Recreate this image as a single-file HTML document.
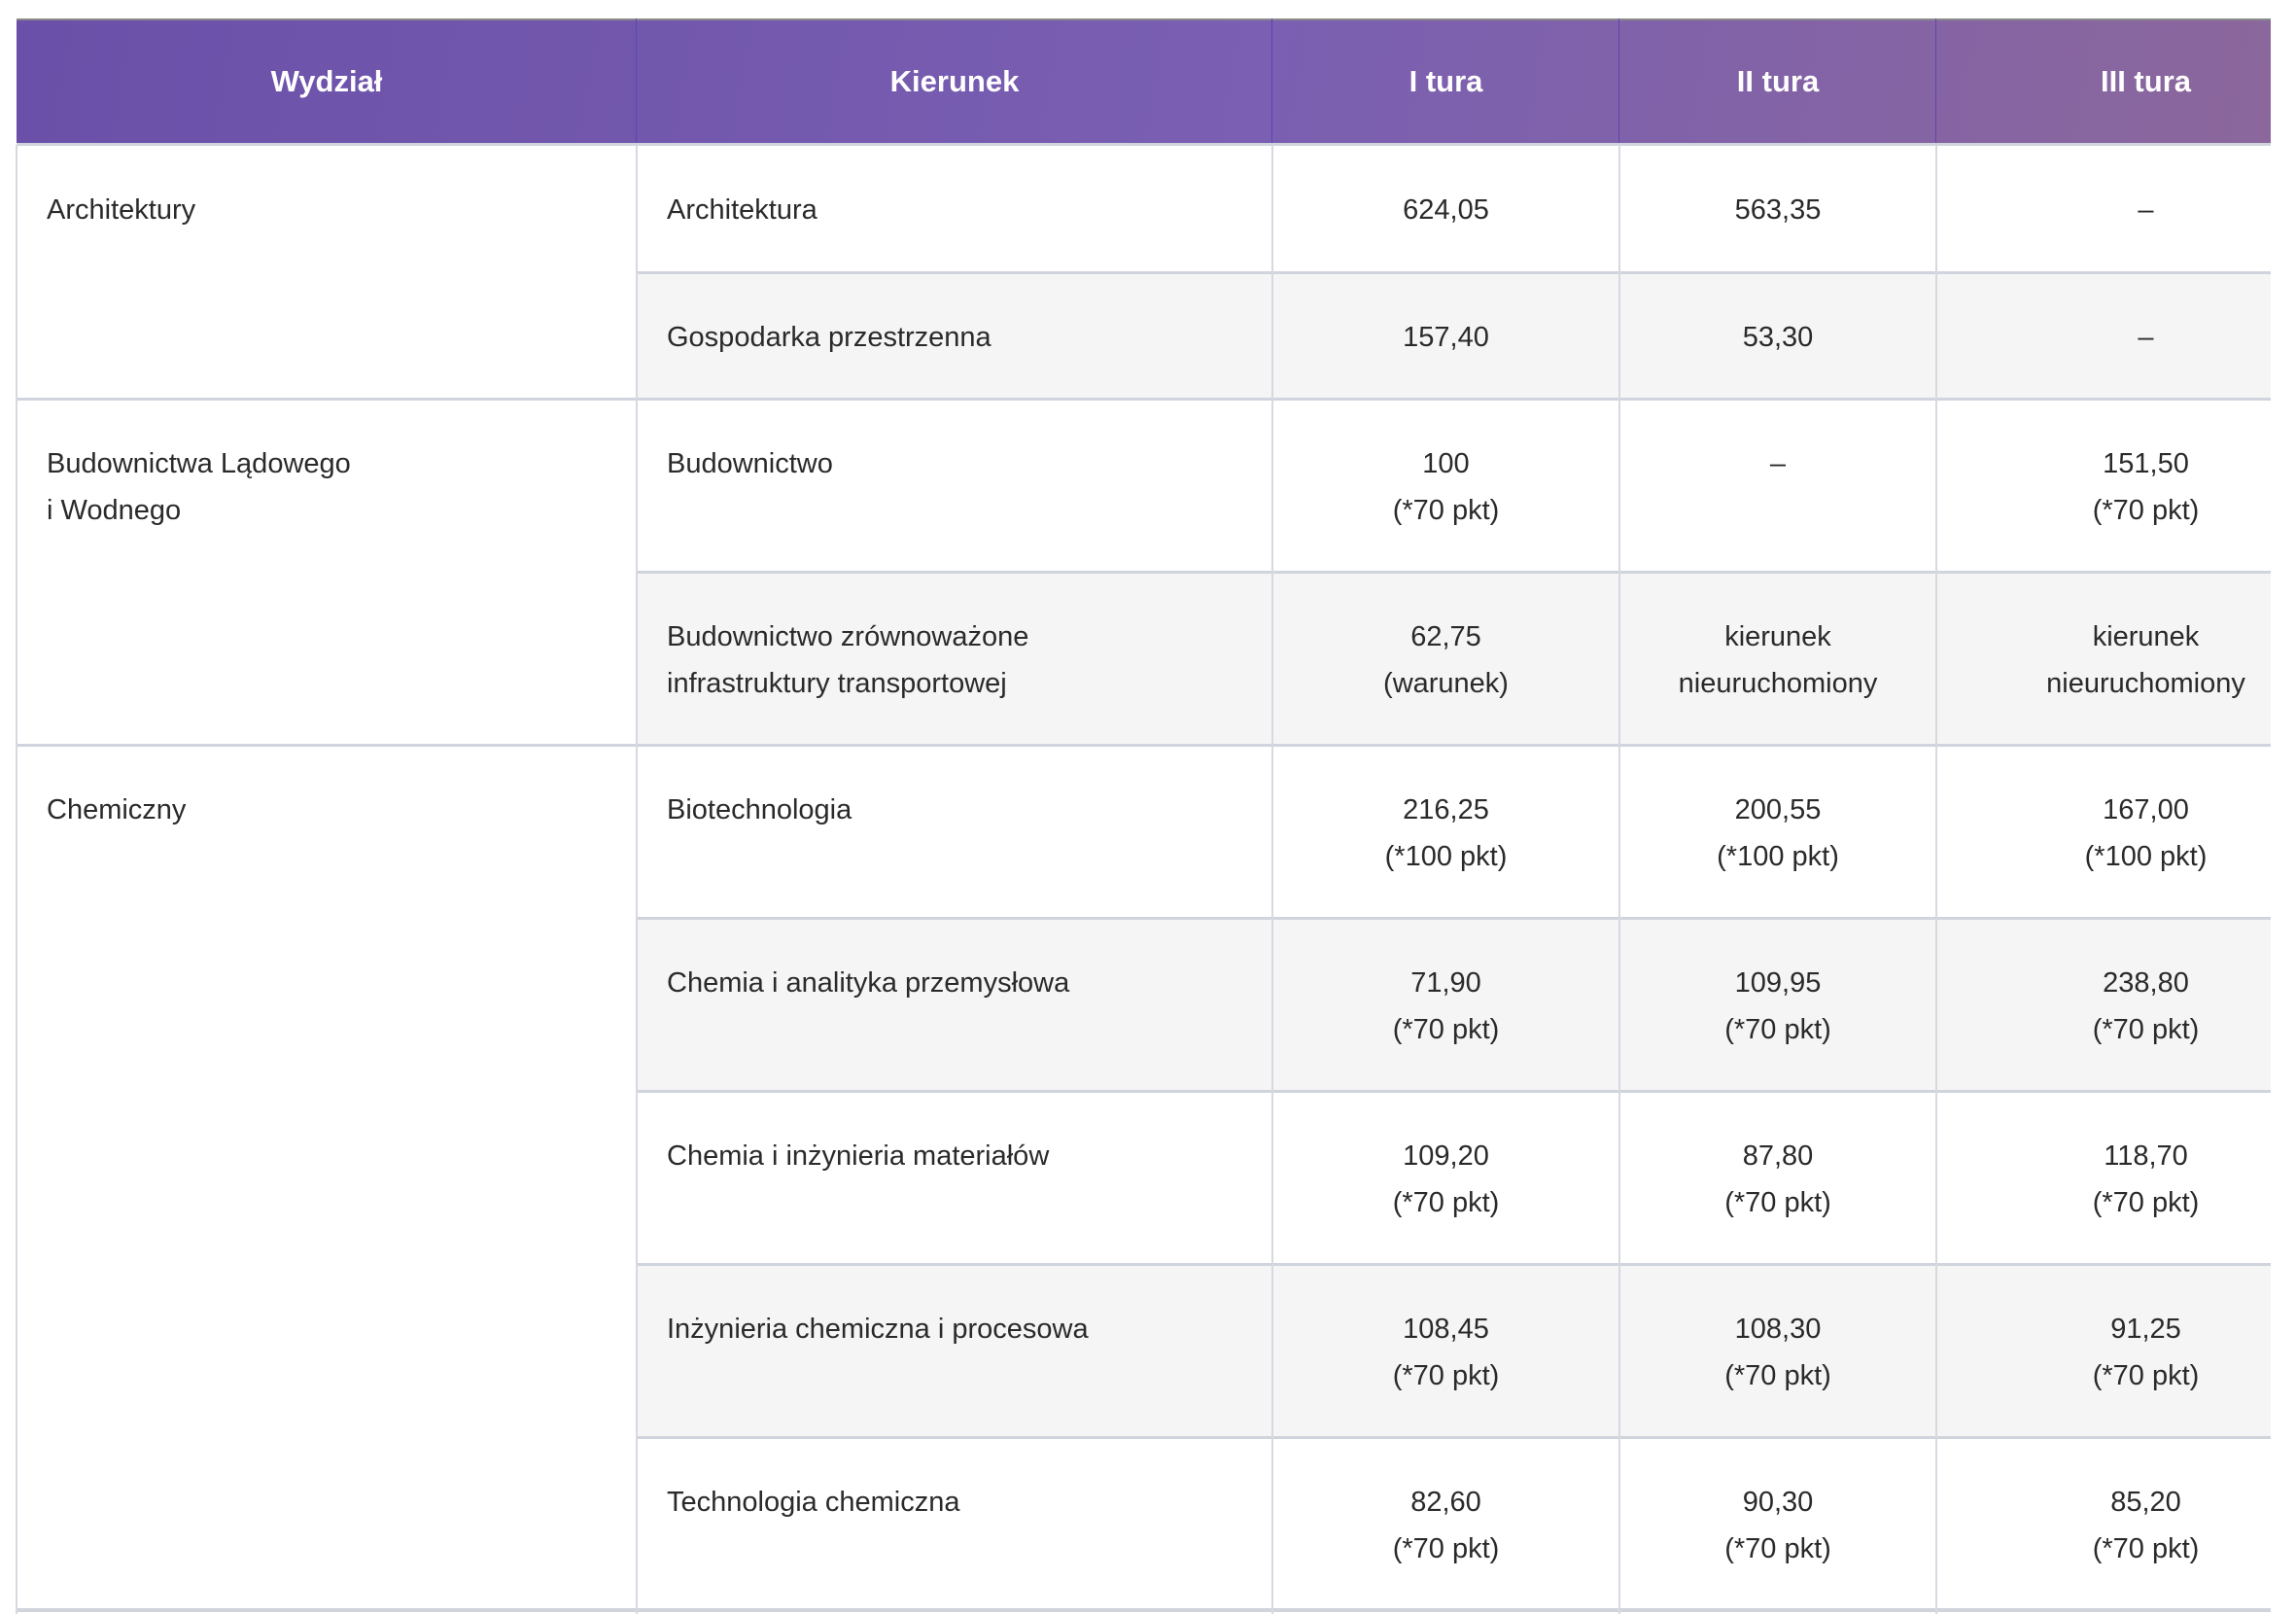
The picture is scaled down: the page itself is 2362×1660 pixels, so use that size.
<!DOCTYPE html>
<html><head><meta charset="utf-8">
<style>
html,body{margin:0;padding:0;background:#fff;}
body{width:2362px;height:1660px;position:relative;overflow:hidden;font-family:"Liberation Sans",sans-serif;}
.hdr{position:absolute;left:17px;top:19px;width:2319px;height:130px;background:linear-gradient(100deg,#6a50a8 0%,#7a5fb2 55%,#8b679c 100%);border-top:2px solid #8a8a8a;box-sizing:border-box;}
.hc{position:absolute;top:19px;height:130px;line-height:130px;text-align:center;color:#fff;font-size:31px;font-weight:bold;}
.vl{position:absolute;width:2px;background:#d6d9e0;}
.hl{position:absolute;height:3px;background:#d0d4dc;}
.bg{position:absolute;background:#f5f5f5;}
.c{position:absolute;font-size:29px;line-height:48px;color:#2a2a2a;}
.ctr{text-align:center;}
</style></head><body>
<div class="hdr"></div>
<div class="hc" style="left:17px;width:638px">Wydział</div>
<div class="hc" style="left:655px;width:654px">Kierunek</div>
<div class="hc" style="left:1309px;width:357px">I tura</div>
<div class="hc" style="left:1666px;width:326px">II tura</div>
<div class="hc" style="left:1992px;width:431px">III tura</div>
<div id="tb"></div>
<script>
const rowsTop=[149,280,410,588,766,944,1122,1300,1478];
const rowsBottom=[280,410,588,766,944,1122,1300,1478,1656];
const kierunek=["Architektura","Gospodarka przestrzenna","Budownictwo","Budownictwo zrównoważone<br>infrastruktury transportowej","Biotechnologia","Chemia i analityka przemysłowa","Chemia i inżynieria materiałów","Inżynieria chemiczna i procesowa","Technologia chemiczna"];
const tura1=["624,05","157,40","100<br>(*70 pkt)","62,75<br>(warunek)","216,25<br>(*100 pkt)","71,90<br>(*70 pkt)","109,20<br>(*70 pkt)","108,45<br>(*70 pkt)","82,60<br>(*70 pkt)"];
const tura2=["563,35","53,30","–","kierunek<br>nieuruchomiony","200,55<br>(*100 pkt)","109,95<br>(*70 pkt)","87,80<br>(*70 pkt)","108,30<br>(*70 pkt)","90,30<br>(*70 pkt)"];
const tura3=["–","–","151,50<br>(*70 pkt)","kierunek<br>nieuruchomiony","167,00<br>(*100 pkt)","238,80<br>(*70 pkt)","118,70<br>(*70 pkt)","91,25<br>(*70 pkt)","85,20<br>(*70 pkt)"];
const wydzialy=["Architektury","Budownictwa Lądowego<br>i Wodnego","Chemiczny"];
const wydzialStart=[0,2,4];
const wydzialEnd=[1,3,8];
const cols=[[17,638],[655,654],[1309,357],[1666,326],[1992,431]];
const tb=document.getElementById('tb');
function add(cls,style,html){const d=document.createElement('div');d.className=cls;d.setAttribute('style',style);if(html!==undefined)d.innerHTML=html;tb.appendChild(d);return d;}
for(let i=0;i<kierunek.length;i++){
  const t=rowsTop[i],h=rowsBottom[i]-t;
  if(i%2===1){const b=add('bg',`left:655px;top:${t}px;width:1681px;height:${h}px`);
    
    }
  const vals=[kierunek[i],tura1[i],tura2[i],tura3[i]];
  for(let j=0;j<4;j++){
    const [x,w]=cols[j+1];
    const el=add('c'+(j>0?' ctr':''),j===0?`left:${x+31}px;top:${t+43}px;width:${w-40}px`:`left:${x}px;top:${t+43}px;width:${w}px`,vals[j]);
    
    
  }
}
for(let i=0;i<kierunek.length-1;i++){
  const isGroupEnd=wydzialEnd.includes(i);
  const l=add('hl',`left:${isGroupEnd?17:655}px;top:${rowsBottom[i]-1}px;width:${isGroupEnd?2319:1681}px`);
  
  
}
for(let k=0;k<wydzialy.length;k++){
  const el=add('c',`left:48px;top:${rowsTop[wydzialStart[k]]+43}px;width:600px`,wydzialy[k]);
  
  
}
const bl=add('hl',`left:17px;top:1654px;width:2319px;height:4px`);


const vxs=[17,655,1309,1666,1992];
for(const x of vxs){
  const v=add('vl',`left:${x-1}px;top:149px;height:1511px`);
  
  
  if(x>17){const hv=add('vl',`left:${x-1}px;top:19px;height:130px;background:#5b46b0;width:1px`);
    
    }
}
const hb=add('hl',`left:17px;top:147px;width:2319px;height:3px`);


</script>
</body></html>
